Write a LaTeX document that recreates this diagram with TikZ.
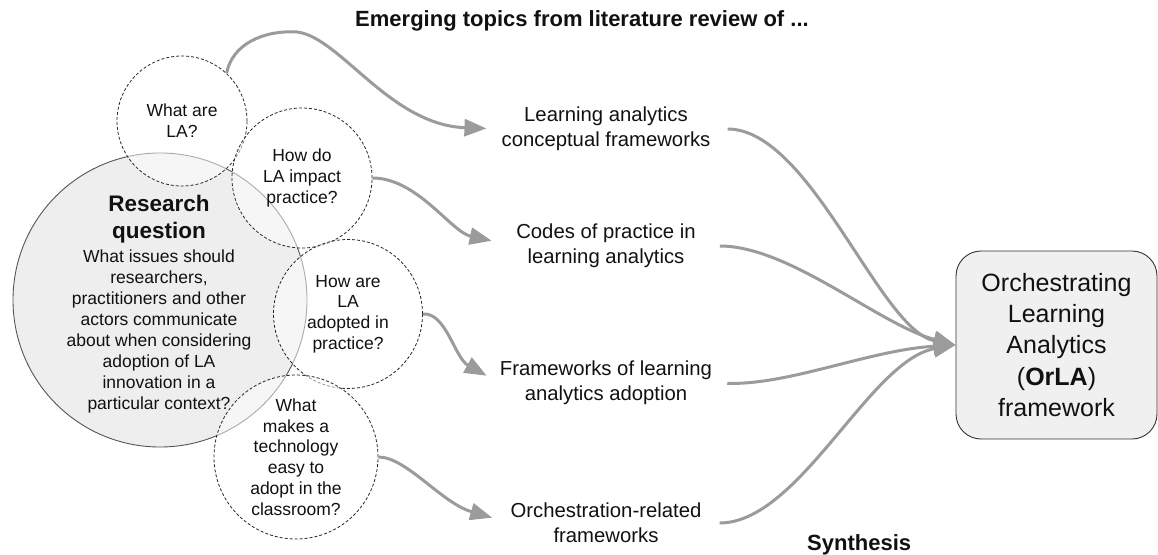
\documentclass[tikz,border=0pt]{standalone}
\usepackage{fontspec}
\setmainfont{Liberation Sans}
\usetikzlibrary{arrows.meta}
\definecolor{arrowgray}{RGB}{155,155,155}
\definecolor{rqfill}{RGB}{238,238,238}
\definecolor{boxfill}{RGB}{240,240,240}
\definecolor{rqline}{RGB}{85,85,85}
\definecolor{textcol}{RGB}{17,17,17}
\begin{document}
\begin{tikzpicture}[x=1pt,y=-1pt,
  qcircle/.style={circle, draw=black!85, line width=0.8pt, dash pattern=on 3pt off 2pt,
    fill=white, fill opacity=0.5, text opacity=1, text=textcol, inner sep=0pt, align=center,
    font=\fontsize{17.5}{20.8}\selectfont},
  topic/.style={inner sep=0pt, align=center, text=textcol, font=\fontsize{20.3}{24.6}\selectfont},
  conn/.style={draw=arrowgray, line width=3pt, -{Triangle[length=22pt,width=17pt]}},
  boldlabel/.style={inner sep=0pt, text=textcol, font=\fontsize{22}{26}\selectfont\bfseries}
]
\useasboundingbox (0,0) rectangle (1158,554);

% title
\node[boldlabel, anchor=base] (title) at (582,27) {Emerging topics from literature review of ...};
\node[boldlabel, anchor=base west] (synth) at (807,550) {Synthesis};

% research question circle
\node[circle, draw=rqline, line width=0.9pt, fill=rqfill, minimum size=294pt, inner sep=0pt] (rq) at (160,300) {};

% question circles
\node[qcircle, minimum size=130pt] (c1) at (182,121) {What are\\LA?};
\node[qcircle, minimum size=140pt] (c2) at (302,178) {How do\\LA impact\\practice?};
\node[qcircle, minimum size=149pt] (c3) at (348,314) {How are\\LA\\adopted in\\practice?};
\node[qcircle, minimum size=164pt] (c4) at (296,457) {What\\makes a\\technology\\easy to\\adopt in the\\classroom?};

% research question text
\node[inner sep=0pt, align=center, text=textcol, font=\fontsize{22.5}{27}\selectfont\bfseries] (rqtitle) at (159,219) {Research\\question};
\node[inner sep=0pt, align=center, text=textcol, font=\fontsize{17.5}{21}\selectfont] (rqbody) at (159,331)
  {What issues should\\researchers,\\practitioners and other\\actors communicate\\about when considering\\adoption of LA\\innovation in a\\particular context?};

% topics
\node[topic] (n1) at (606,129) {Learning analytics\\conceptual frameworks};
\node[topic] (n2) at (606,246) {Codes of practice in\\learning analytics};
\node[topic] (n3) at (606,383) {Frameworks of learning\\analytics adoption};
\node[topic] (n4) at (606,523) {Orchestration-related\\frameworks};

% OrLA box
\node[draw=black!80, line width=0.9pt, fill=boxfill, rounded corners=25pt, minimum width=201pt, minimum height=188pt,
  align=center, text=textcol, font=\fontsize{25}{31.25}\selectfont] (orla) at (1056.5,345)
  {Orchestrating\\Learning\\Analytics\\(\textbf{OrLA})\\framework};

% connectors to topics
\path[conn, shorten >=15pt] (c1.47) .. controls (232,45) and (262,30) .. (297,32)
  .. controls (340,37) and (390,125) .. (n1.west);
\path[conn, shorten >=25pt] (c2.east) .. controls +(45,0) and +(-65,-14) .. (n2.west);
\path[conn, shorten >=15pt] (c3.east) .. controls +(23,-2) and +(-45,-25) .. (n3.west);
\path[conn, shorten >=19pt] (c4.east) .. controls +(28,0) and +(-69,-20) .. (n4.west);

% connectors to OrLA
\path[conn, shorten <=17pt] (n1.east) .. controls +(100,0) and +(-76,-15) .. (orla.west);
\path[conn, shorten <=24pt] (n2.east) .. controls +(94,0) and +(-76,-20) .. (orla.west);
\path[conn, shorten <=15pt] (n3.east) .. controls +(78,2) and +(-86,5) .. (orla.west);
\path[conn, shorten <=18pt] (n4.east) .. controls +(98,0) and +(-86,15) .. (orla.west);
\end{tikzpicture}
\end{document}
